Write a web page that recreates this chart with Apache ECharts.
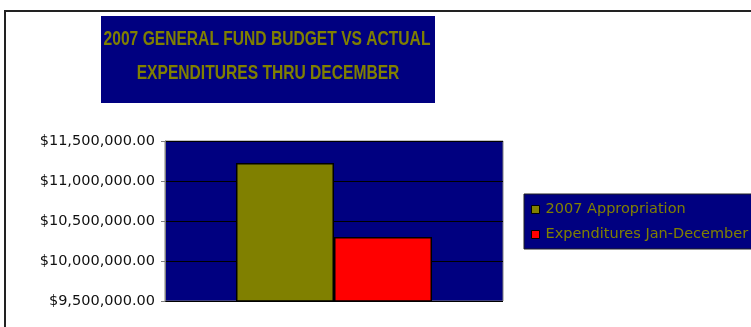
<!DOCTYPE html>
<html><head><meta charset="utf-8">
<script src="https://cdn.jsdelivr.net/npm/echarts@6/dist/echarts.min.js"></script>
<style>html,body{margin:0;padding:0;background:#fff}#c{width:751px;height:327px}</style>
</head><body><div id="c"></div>
<script>
const categories = [''];
const seriesNames = ['2007 Appropriation', 'Expenditures Jan-December'];
const appropriation = [11225000];
const expenditures = [10300000];
const yTicks = [9500000, 10000000, 10500000, 11000000, 11500000];

const chart = echarts.init(document.getElementById('c'));
function fmt(v){ return '$' + v.toLocaleString('en-US',{minimumFractionDigits:2,maximumFractionDigits:2}); }
const titleFont = 'bold 21px "Liberation Sans", Arial, sans-serif';
chart.setOption({
  animation:false,
  backgroundColor:'#fff',
  graphic:[
    {type:'rect',shape:{x:5,y:11,width:760,height:330},style:{fill:'none',stroke:'#222',lineWidth:2},z:-10},
    {type:'rect',shape:{x:101,y:16,width:334,height:87},style:{fill:'#000080'},z:-5},
    {type:'text',x:267,y:39,scaleX:0.743,style:{text:'2007 GENERAL FUND BUDGET VS ACTUAL',fill:'#808000',font:titleFont,textAlign:'center',textVerticalAlign:'middle'}},
    {type:'text',x:268,y:73,scaleX:0.743,style:{text:'EXPENDITURES THRU DECEMBER',fill:'#808000',font:titleFont,textAlign:'center',textVerticalAlign:'middle'}}
  ],
  legend:{
    left:524, top:194, orient:'vertical',
    backgroundColor:'#000080', borderColor:'#222', borderWidth:1,
    padding:[8,20,7,7], itemGap:10, itemWidth:8, itemHeight:8,
    icon:'rect',
    textStyle:{color:'#808000',fontSize:14.5,fontFamily:'"DejaVu Sans", sans-serif',padding:[0,0,0,1]},
    data:seriesNames.map(n=>({name:n,itemStyle:{borderColor:'#000',borderWidth:1}}))
  },
  grid:{left:165,top:141,width:338,height:160,containLabel:false,show:true,backgroundColor:'#000080',borderColor:'#808080',borderWidth:1},
  xAxis:{type:'category',data:categories,axisLine:{show:false},axisTick:{show:false},axisLabel:{show:false}},
  yAxis:{type:'value',min:yTicks[0],max:yTicks[yTicks.length-1],interval:yTicks[1]-yTicks[0],
    axisLine:{show:true,lineStyle:{color:'#808080'}},
    axisTick:{show:true,length:4,lineStyle:{color:'#808080'}},
    splitLine:{show:true,lineStyle:{color:'#000',width:1}},
    axisLabel:{formatter:v=>fmt(v),color:'#111',fontSize:14.5,fontFamily:'"DejaVu Sans", sans-serif',margin:10}
  },
  series:[
    {name:seriesNames[0],type:'bar',data:appropriation,barGap:'0%',barCategoryGap:'42%',itemStyle:{color:'#808000',borderColor:'#000',borderWidth:1.5}},
    {name:seriesNames[1],type:'bar',data:expenditures,itemStyle:{color:'#ff0000',borderColor:'#000',borderWidth:1.5}}
  ]
});
</script></body></html>
